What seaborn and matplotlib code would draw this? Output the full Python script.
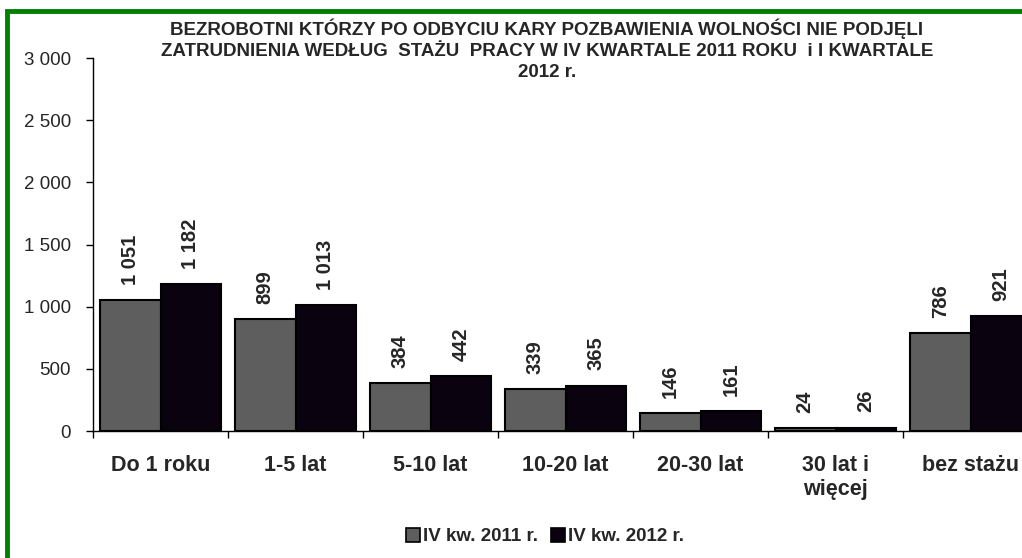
import pandas as pd
import matplotlib.pyplot as plt
import seaborn as sns
from matplotlib.patches import Rectangle
from matplotlib.lines import Line2D

# dane z wykresu
kategorie = ['Do 1 roku', '1-5 lat', '5-10 lat', '10-20 lat', '20-30 lat', '30 lat i\nwięcej', 'bez stażu']
serie = ['IV kw. 2011 r.', 'IV kw. 2012 r.']
wartosci_2011 = [1051, 899, 384, 339, 146, 24, 786]
wartosci_2012 = [1182, 1013, 442, 365, 161, 26, 921]
kolory = ['#5e5e5e', '#0b0010']
tytul = ('BEZROBOTNI KTÓRZY PO ODBYCIU KARY POZBAWIENIA WOLNOŚCI NIE PODJĘLI\n'
         'ZATRUDNIENIA WEDŁUG  STAŻU  PRACY W IV KWARTALE 2011 ROKU  i I KWARTALE\n'
         '2012 r.')

df = pd.DataFrame({
    'kategoria': kategorie * 2,
    'seria': [serie[0]] * len(kategorie) + [serie[1]] * len(kategorie),
    'wartosc': wartosci_2011 + wartosci_2012,
})

sns.set_style('white')
plt.rcParams['font.family'] = ['Liberation Sans', 'DejaVu Sans']

fig = plt.figure(figsize=(10.22, 5.58), dpi=100)
ax = fig.add_axes([93 / 1022, 127 / 558, 945 / 1022, 373 / 558])

sns.barplot(data=df, x='kategoria', y='wartosc', hue='seria', palette=kolory,
            width=0.9, edgecolor='black', linewidth=1.5, legend=False, ax=ax)

for cont in ax.containers:
    etykiety = [f'{int(b.get_height()):,}'.replace(',', ' ') for b in cont]
    ax.bar_label(cont, labels=etykiety, rotation=90, padding=11,
                 fontsize=14.5, fontweight='bold')

ax.set_ylim(0, 3000)
ax.set_xlim(-0.5, len(kategorie) - 0.5)
ax.set_yticks(range(0, 3001, 500))
ax.set_yticklabels([f'{v:,}'.replace(',', ' ') for v in range(0, 3001, 500)], fontsize=13.5)
ax.set_xticks(range(len(kategorie)))
ax.set_xticklabels(kategorie, fontsize=15.5, fontweight='bold')
ax.set_xticks([i - 0.5 for i in range(len(kategorie) + 1)], minor=True)
ax.tick_params(axis='x', which='major', length=0, pad=17)
ax.tick_params(axis='x', which='minor', length=5, width=1, color='black', direction='out', bottom=True)
ax.tick_params(axis='y', length=5, width=1, color='black', direction='out', left=True, pad=11)
ax.set_xlabel('')
ax.set_ylabel('')
for s in ['top', 'right']:
    ax.spines[s].set_visible(False)
ax.spines['left'].set_color('black')
ax.spines['bottom'].set_color('black')
ax.spines['left'].set_linewidth(1)
ax.spines['bottom'].set_linewidth(1)

fig.text(0.535, 0.855, tytul, ha='center', va='bottom', fontsize=13.5,
         fontweight='bold', linespacing=1.32)

uchwyty = [Line2D([], [], marker='s', linestyle='', markersize=10,
                  markerfacecolor=k, markeredgecolor='black', markeredgewidth=1.2)
           for k in kolory]
fig.legend(uchwyty, serie, loc='center', bbox_to_anchor=(0.533, 0.038), ncol=2,
           frameon=False, handlelength=0.8, handletextpad=0.1, columnspacing=0.7,
           prop={'weight': 'bold', 'size': 13.5})

ramka = Rectangle((7 / 1022, -0.05), 1.1, 1 - 11 / 558 + 0.05, transform=fig.transFigure,
                  fill=False, edgecolor='#008000', linewidth=3.5, clip_on=False)
fig.patches.append(ramka)

fig.savefig('out.png', dpi=100)
